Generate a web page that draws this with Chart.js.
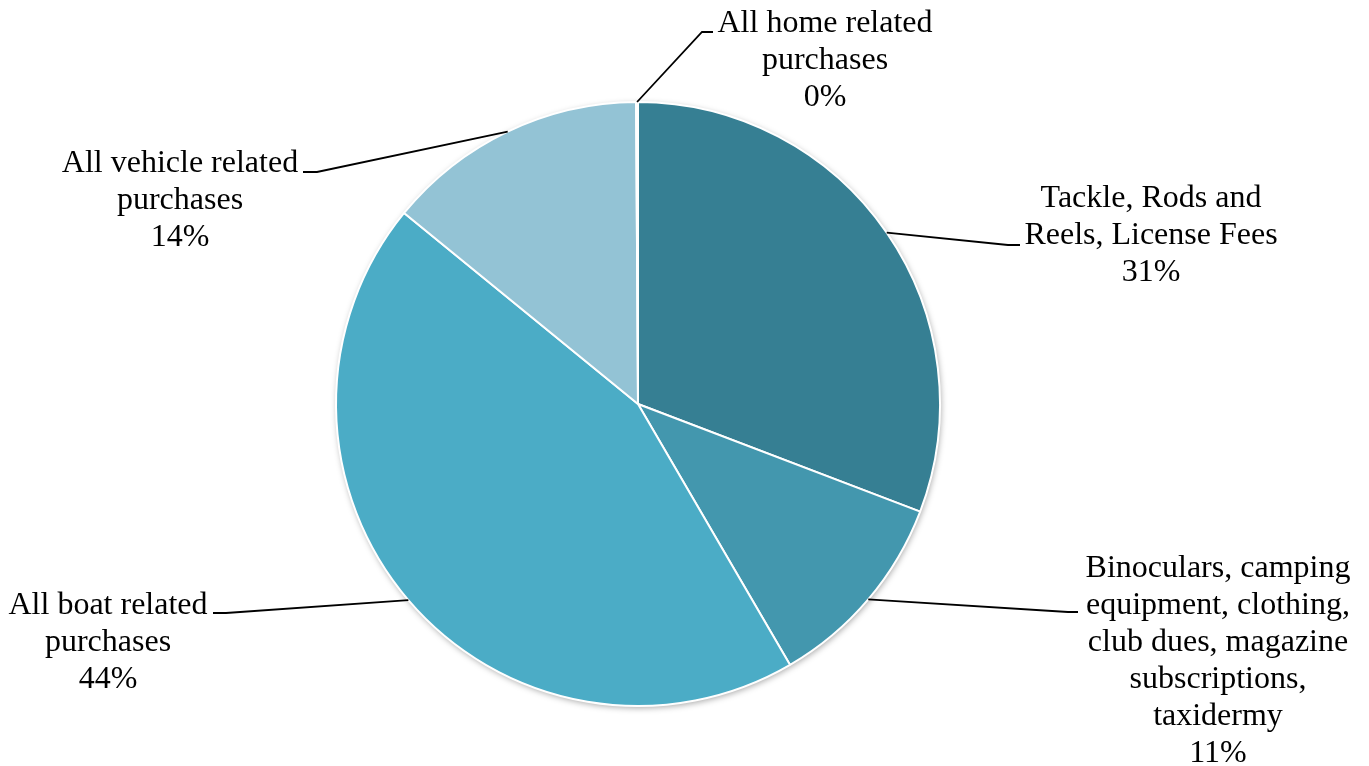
<!DOCTYPE html>
<html>
<head>
<meta charset="utf-8">
<title>Spending by category</title>
<script src="https://cdn.jsdelivr.net/npm/chart.js@4.4.1/dist/chart.umd.min.js"></script>
<style>
    html, body { margin: 0; padding: 0; background: #ffffff; }
    #chart1 { display: block; }
</style>
</head>
<body>
<canvas id="chart1" width="1369" height="766"></canvas>
<script>
// categories, as they are written on the chart (one entry per text line)
const categories = [
    ['Tackle, Rods and', 'Reels, License Fees'],
    ['Binoculars, camping', 'equipment, clothing,', 'club dues, magazine', 'subscriptions,', 'taxidermy'],
    ['All boat related', 'purchases'],
    ['All vehicle related', 'purchases'],
    ['All home related', 'purchases']
];

// share of spending, percent
const shares = [30.8, 10.8, 44.3, 14.0, 0.1];

const sliceColors = ['#367f93', '#4397ae', '#4bacc6', '#93c3d5', '#2d6b7c'];

// where each label sits: text centre x, first line centre y, leader elbow and end
const labelLayout = [
    { x: 1151, y: 199, elbow: [1008, 245], end: [1020, 245] },
    { x: 1218, y: 569, elbow: [1068, 612], end: [1078, 612] },
    { x: 108,  y: 606, elbow: [226, 613],  end: [213, 613] },
    { x: 180,  y: 164, elbow: [317, 172],  end: [303, 172] },
    { x: 825,  y: 24,  elbow: [702, 32],   end: [713, 32] }
];

const labelFont = '32px "Liberation Serif", "Times New Roman", serif';
const lineHeight = 37;

// soft shadow under the whole pie, drawn before the slices
const pieShadow = {
    id: 'pieShadow',
    beforeDatasetsDraw(chart) {
        const arc = chart.getDatasetMeta(0).data[0];
        if (!arc) return;
        const ctx = chart.ctx;
        ctx.save();
        ctx.shadowColor = 'rgba(0, 0, 0, 0.35)';
        ctx.shadowBlur = 6;
        ctx.shadowOffsetX = 1;
        ctx.shadowOffsetY = 2;
        ctx.fillStyle = '#ffffff';
        ctx.beginPath();
        ctx.arc(arc.x, arc.y, arc.outerRadius, 0, Math.PI * 2);
        ctx.fill();
        ctx.restore();
    }
};

// outside labels with leader lines
const outsideLabels = {
    id: 'outsideLabels',
    afterDatasetsDraw(chart) {
        const ctx = chart.ctx;
        const meta = chart.getDatasetMeta(0);
        ctx.save();
        meta.data.forEach(function (arc, i) {
            const mid = (arc.startAngle + arc.endAngle) / 2;
            const sx = arc.x + Math.cos(mid) * arc.outerRadius;
            const sy = arc.y + Math.sin(mid) * arc.outerRadius;
            const lay = labelLayout[i];

            ctx.strokeStyle = '#000000';
            ctx.lineWidth = 1.8;
            ctx.beginPath();
            ctx.moveTo(sx, sy);
            ctx.lineTo(lay.elbow[0], lay.elbow[1]);
            ctx.lineTo(lay.end[0], lay.end[1]);
            ctx.stroke();

            const lines = categories[i].concat([Math.round(shares[i]) + '%']);
            ctx.fillStyle = '#000000';
            ctx.font = labelFont;
            ctx.textAlign = 'center';
            ctx.textBaseline = 'middle';
            lines.forEach(function (text, k) {
                ctx.fillText(text, lay.x, lay.y + k * lineHeight);
            });
        });
        ctx.restore();
    }
};

function pieChart(canvas, labels, data, colors) {
    const ctx = document.getElementById(canvas);
    const myChart = new Chart(ctx, {
        type: 'pie',
        data: {
            labels: labels,
            datasets: [{
                data: data,
                backgroundColor: colors,
                borderColor: '#ffffff',
                borderWidth: 2
            }]
        },
        options: {
            responsive: false,
            animation: false,
            layout: {
                padding: { left: 335, right: 428, top: 101, bottom: 59 }
            },
            plugins: {
                legend: { display: false },
                tooltip: { enabled: false }
            }
        },
        plugins: [pieShadow, outsideLabels]
    });
    return myChart;
}

pieChart('chart1', categories.map(function (c) { return c.join(' '); }), shares, sliceColors);
</script>
</body>
</html>
